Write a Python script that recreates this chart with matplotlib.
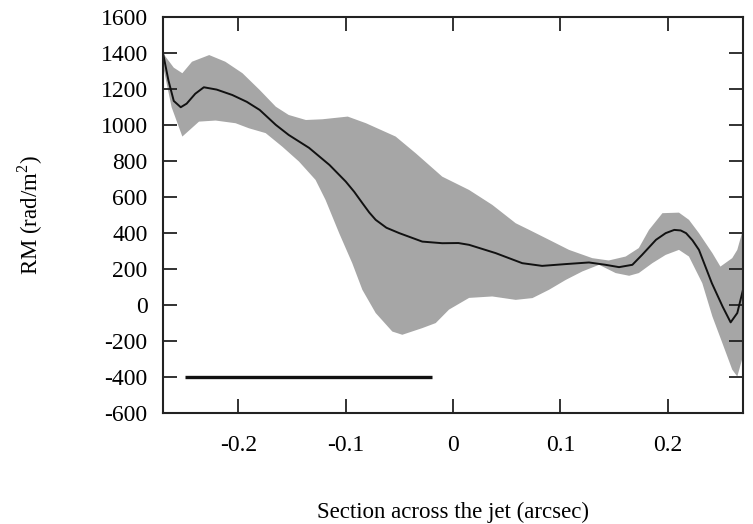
import numpy as np
import matplotlib
matplotlib.use("Agg")
import matplotlib.pyplot as plt

plt.rcParams['font.family'] = ['Liberation Serif', 'DejaVu Serif']
plt.rcParams['mathtext.fontset'] = 'custom'
plt.rcParams['mathtext.rm'] = 'Liberation Serif'
plt.rcParams['axes.unicode_minus'] = False

# central RM profile
x_line = [-0.27, -0.265, -0.26, -0.2535, -0.248, -0.24, -0.232, -0.22, -0.2055,
          -0.192, -0.180, -0.165, -0.153, -0.134, -0.115, -0.0999, -0.092,
          -0.0844, -0.078, -0.072, -0.062, -0.050, -0.0286, -0.010,
          0.005, 0.015, 0.0397, 0.0645, 0.083, 0.105, 0.1266, 0.142, 0.1546,
          0.167, 0.176, 0.189, 0.198, 0.206, 0.212, 0.217, 0.223, 0.229, 0.241,
          0.251, 0.2585, 0.2647, 0.27]
rm_line = [1400, 1250, 1135, 1100, 1120, 1175, 1211, 1198, 1168,
           1130, 1085, 1002, 946, 874, 779, 687, 630,
           567, 515, 474, 430, 400, 353, 344,
           345, 335, 289, 233, 218, 228, 237, 224, 211,
           224, 279, 363, 400, 418, 415, 400, 360, 307, 122,
           -8, -96, -44, 85]

# upper edge of error band
x_up = [-0.27, -0.26, -0.252, -0.243, -0.227, -0.212, -0.196, -0.180, -0.165,
        -0.153, -0.137, -0.1217, -0.098, -0.081, -0.0534, -0.0347, -0.010,
        0.015, 0.0366, 0.0584, 0.071, 0.0894, 0.108, 0.1297, 0.145, 0.1608,
        0.173, 0.1825, 0.195, 0.2104, 0.2197, 0.229, 0.2415, 0.249, 0.26,
        0.2647, 0.27]
rm_up = [1400, 1320, 1289, 1353, 1390, 1353, 1289, 1196, 1103,
         1057, 1029, 1033, 1048, 1011, 937, 844, 714,
         640, 557, 455, 418, 363, 307, 261, 248, 270,
         317, 418, 511, 514, 474, 400, 289, 214, 261,
         307, 420]

# lower edge of error band
x_lo = [-0.27, -0.262, -0.252, -0.2365, -0.221, -0.2024, -0.19, -0.1744, -0.159,
        -0.1434, -0.128, -0.1187, -0.106, -0.0938, -0.0844, -0.072, -0.0565,
        -0.0472, -0.0286, -0.0161, -0.0037, 0.015, 0.0366, 0.0584, 0.074,
        0.0894, 0.105, 0.1204, 0.136, 0.1515, 0.164, 0.173, 0.1856, 0.198,
        0.2104, 0.2197, 0.2321, 0.2415, 0.2508, 0.26, 0.2647, 0.27]
rm_lo = [1330, 1100, 937, 1020, 1026, 1011, 983, 956, 881,
         798, 696, 585, 400, 233, 85, -44, -147,
         -165, -128, -100, -25, 40, 48, 29, 39,
         85, 140, 187, 224, 178, 163, 178, 233, 279,
         307, 270, 122, -63, -211, -359, -397, -285]

# scale bar
bar_x = [-0.25, -0.02]
bar_y = [-400, -400]

fig = plt.figure(figsize=(7.53, 5.24), dpi=100)
ax = fig.add_axes([0.2165, 0.2118, 0.7702, 0.7552])

ax.fill(np.concatenate([x_up, x_lo[::-1]]), np.concatenate([rm_up, rm_lo[::-1]]),
        color='#a6a6a6', lw=0, zorder=1)
ax.plot(x_line, rm_line, color='#111111', lw=1.4, zorder=2)
ax.plot(bar_x, bar_y, color='#111111', lw=2.4, solid_capstyle='butt', zorder=2)

ax.set_xlim(-0.27, 0.27)
ax.set_ylim(-600, 1600)
ax.set_xticks([-0.2, -0.1, 0, 0.1, 0.2])
ax.set_xticklabels(['-0.2', '-0.1', '0', '0.1', '0.2'])
ax.set_yticks(range(-600, 1601, 200))

for s in ax.spines.values():
    s.set_linewidth(1.5)
    s.set_color('#222222')
ax.tick_params(direction='in', length=10, width=1.3, color='#222222',
               top=True, right=True, labelsize=17)
ax.tick_params(axis='x', pad=16)
ax.tick_params(axis='y', pad=11)

ax.set_xlabel('Section across the jet (arcsec)', fontsize=16.5, labelpad=33)
ax.set_ylabel(r'RM (rad/m$^2$)', fontsize=16.5, labelpad=40)

fig.savefig('out.png', dpi=100)
